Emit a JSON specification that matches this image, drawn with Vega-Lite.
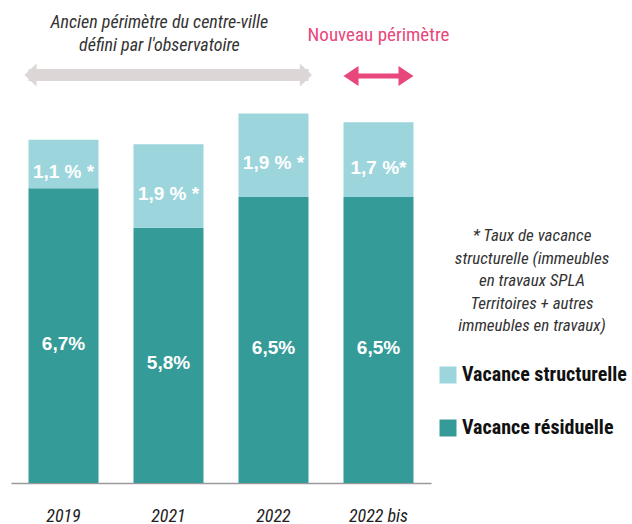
{
  "$schema": "https://vega.github.io/schema/vega-lite/v6.json",
  "autosize": "none",
  "width": 420,
  "height": 440,
  "padding": {"left": 11, "top": 43, "right": 201, "bottom": 41},
  "background": "white",
  "config": {
    "font": "Liberation Sans Narrow, Roboto Condensed, Liberation Sans, sans-serif",
    "view": {"stroke": null}
  },
  "data": {
    "values": [
      {"annee": "2019", "type": "Vacance résiduelle", "valeur": 6.7, "label": "6,7%"},
      {"annee": "2019", "type": "Vacance structurelle", "valeur": 1.1, "label": "1,1 % *"},
      {"annee": "2021", "type": "Vacance résiduelle", "valeur": 5.8, "label": "5,8%"},
      {"annee": "2021", "type": "Vacance structurelle", "valeur": 1.9, "label": "1,9 % *"},
      {"annee": "2022", "type": "Vacance résiduelle", "valeur": 6.5, "label": "6,5%"},
      {"annee": "2022", "type": "Vacance structurelle", "valeur": 1.9, "label": "1,9 % *"},
      {"annee": "2022 bis", "type": "Vacance résiduelle", "valeur": 6.5, "label": "6,5%"},
      {"annee": "2022 bis", "type": "Vacance structurelle", "valeur": 1.7, "label": "1,7 %*"}
    ]
  },
  "layer": [
    {
      "mark": {"type": "bar"},
      "encoding": {
        "x": {
          "field": "annee", "type": "nominal",
          "scale": {"paddingInner": 0.3333, "paddingOuter": 0.1667},
          "axis": {
            "title": null, "ticks": false, "labelAngle": 0,
            "domainColor": "#9a9a9a", "domainWidth": 1.5,
            "labelFontSize": 18, "labelFontStyle": "italic", "labelColor": "#222222",
            "labelPadding": 24
          }
        },
        "y": {
          "field": "valeur", "type": "quantitative", "stack": "zero",
          "scale": {"domain": [0, 10], "nice": false, "zero": true},
          "axis": null
        },
        "order": {"field": "type", "sort": "ascending"},
        "color": {
          "field": "type", "type": "nominal",
          "scale": {"domain": ["Vacance structurelle", "Vacance résiduelle"], "range": ["#9dd5dc", "#359b98"]},
          "legend": {
            "orient": "none", "legendX": 427, "legendY": 185,
            "padding": 0,
            "title": ["* Taux de vacance", "structurelle (immeubles", "en travaux SPLA", "Territoires + autres", "immeubles en travaux)"],
            "titleFontSize": 17, "titleFontStyle": "italic", "titleFontWeight": "normal",
            "titleColor": "#333333", "titleAlign": "center", "titleAnchor": "middle",
            "titleLineHeight": 22.5, "titlePadding": 30, "titleLimit": 400,
            "symbolType": "square", "symbolSize": 289, "symbolStrokeWidth": 0, "symbolOpacity": 1,
            "labelFontSize": 20, "labelFontWeight": "bold", "labelColor": "#111111",
            "labelOffset": 4, "rowPadding": 33, "labelLimit": 300
          }
        }
      }
    },
    {
      "transform": [
        {"stack": "valeur", "groupby": ["annee"], "sort": [{"field": "type", "order": "ascending"}], "as": ["y0", "y1"]},
        {"fold": ["y0", "y1"], "as": ["bord", "pos"]}
      ],
      "mark": {"type": "text", "color": "white", "font": "Liberation Sans, Arial, sans-serif", "fontWeight": "bold", "fontSize": 19, "baseline": "middle", "dy": 8},
      "encoding": {
        "x": {"field": "annee", "type": "nominal"},
        "y": {"aggregate": "mean", "field": "pos", "type": "quantitative"},
        "detail": {"field": "type"},
        "text": {"field": "label"}
      }
    },
    {
      "data": {"values": [{}]},
      "mark": {"type": "rule", "color": "#ddd6d6", "strokeWidth": 12},
      "encoding": {
        "x": {"datum": "2019", "bandPosition": 0},
        "x2": {"datum": "2022", "bandPosition": 1},
        "y": {"datum": 9.27, "type": "quantitative"}
      }
    },
    {
      "data": {"values": [{}]},
      "mark": {"type": "point", "filled": true, "opacity": 1, "color": "#ddd6d6", "size": 529, "shape": "M -0.35 0 L 0.7 -1 L 0.7 1 Z"},
      "encoding": {
        "x": {"datum": "2019", "bandPosition": 0},
        "y": {"datum": 9.27, "type": "quantitative"}
      }
    },
    {
      "data": {"values": [{}]},
      "mark": {"type": "point", "filled": true, "opacity": 1, "color": "#ddd6d6", "size": 529, "shape": "M 0.3 0 L -0.75 -1 L -0.75 1 Z"},
      "encoding": {
        "x": {"datum": "2022", "bandPosition": 1},
        "y": {"datum": 9.27, "type": "quantitative"}
      }
    },
    {
      "data": {"values": [{}]},
      "mark": {"type": "rule", "color": "#e8477c", "strokeWidth": 5},
      "encoding": {
        "x": {"datum": "2022 bis", "bandPosition": 0.1},
        "x2": {"datum": "2022 bis", "bandPosition": 0.9},
        "y": {"datum": 9.25, "type": "quantitative"}
      }
    },
    {
      "data": {"values": [{}]},
      "mark": {"type": "point", "filled": true, "opacity": 1, "color": "#e8477c", "size": 400, "shape": "M 0 0 L 1.5 -1 L 1.5 1 Z"},
      "encoding": {
        "x": {"datum": "2022 bis", "bandPosition": 0},
        "y": {"datum": 9.25, "type": "quantitative"}
      }
    },
    {
      "data": {"values": [{}]},
      "mark": {"type": "point", "filled": true, "opacity": 1, "color": "#e8477c", "size": 400, "shape": "M 0 0 L -1.5 -1 L -1.5 1 Z"},
      "encoding": {
        "x": {"datum": "2022 bis", "bandPosition": 1},
        "y": {"datum": 9.25, "type": "quantitative"}
      }
    },
    {
      "data": {"values": [{"t": "Ancien périmètre du centre-ville\ndéfini par l'observatoire"}]},
      "mark": {"type": "text", "lineBreak": "\n", "fontStyle": "italic", "fontSize": 18, "color": "#333333", "align": "center", "baseline": "middle", "lineHeight": 23},
      "encoding": {
        "x": {"datum": "2021", "bandPosition": 0.37},
        "y": {"datum": 10.45, "type": "quantitative"},
        "text": {"field": "t"}
      }
    },
    {
      "data": {"values": [{"t": "Nouveau périmètre"}]},
      "mark": {"type": "text", "fontSize": 19, "color": "#e8477c", "align": "center", "baseline": "middle"},
      "encoding": {
        "x": {"datum": "2022 bis", "bandPosition": 0.5},
        "y": {"datum": 10.18, "type": "quantitative"},
        "text": {"field": "t"}
      }
    }
  ]
}
